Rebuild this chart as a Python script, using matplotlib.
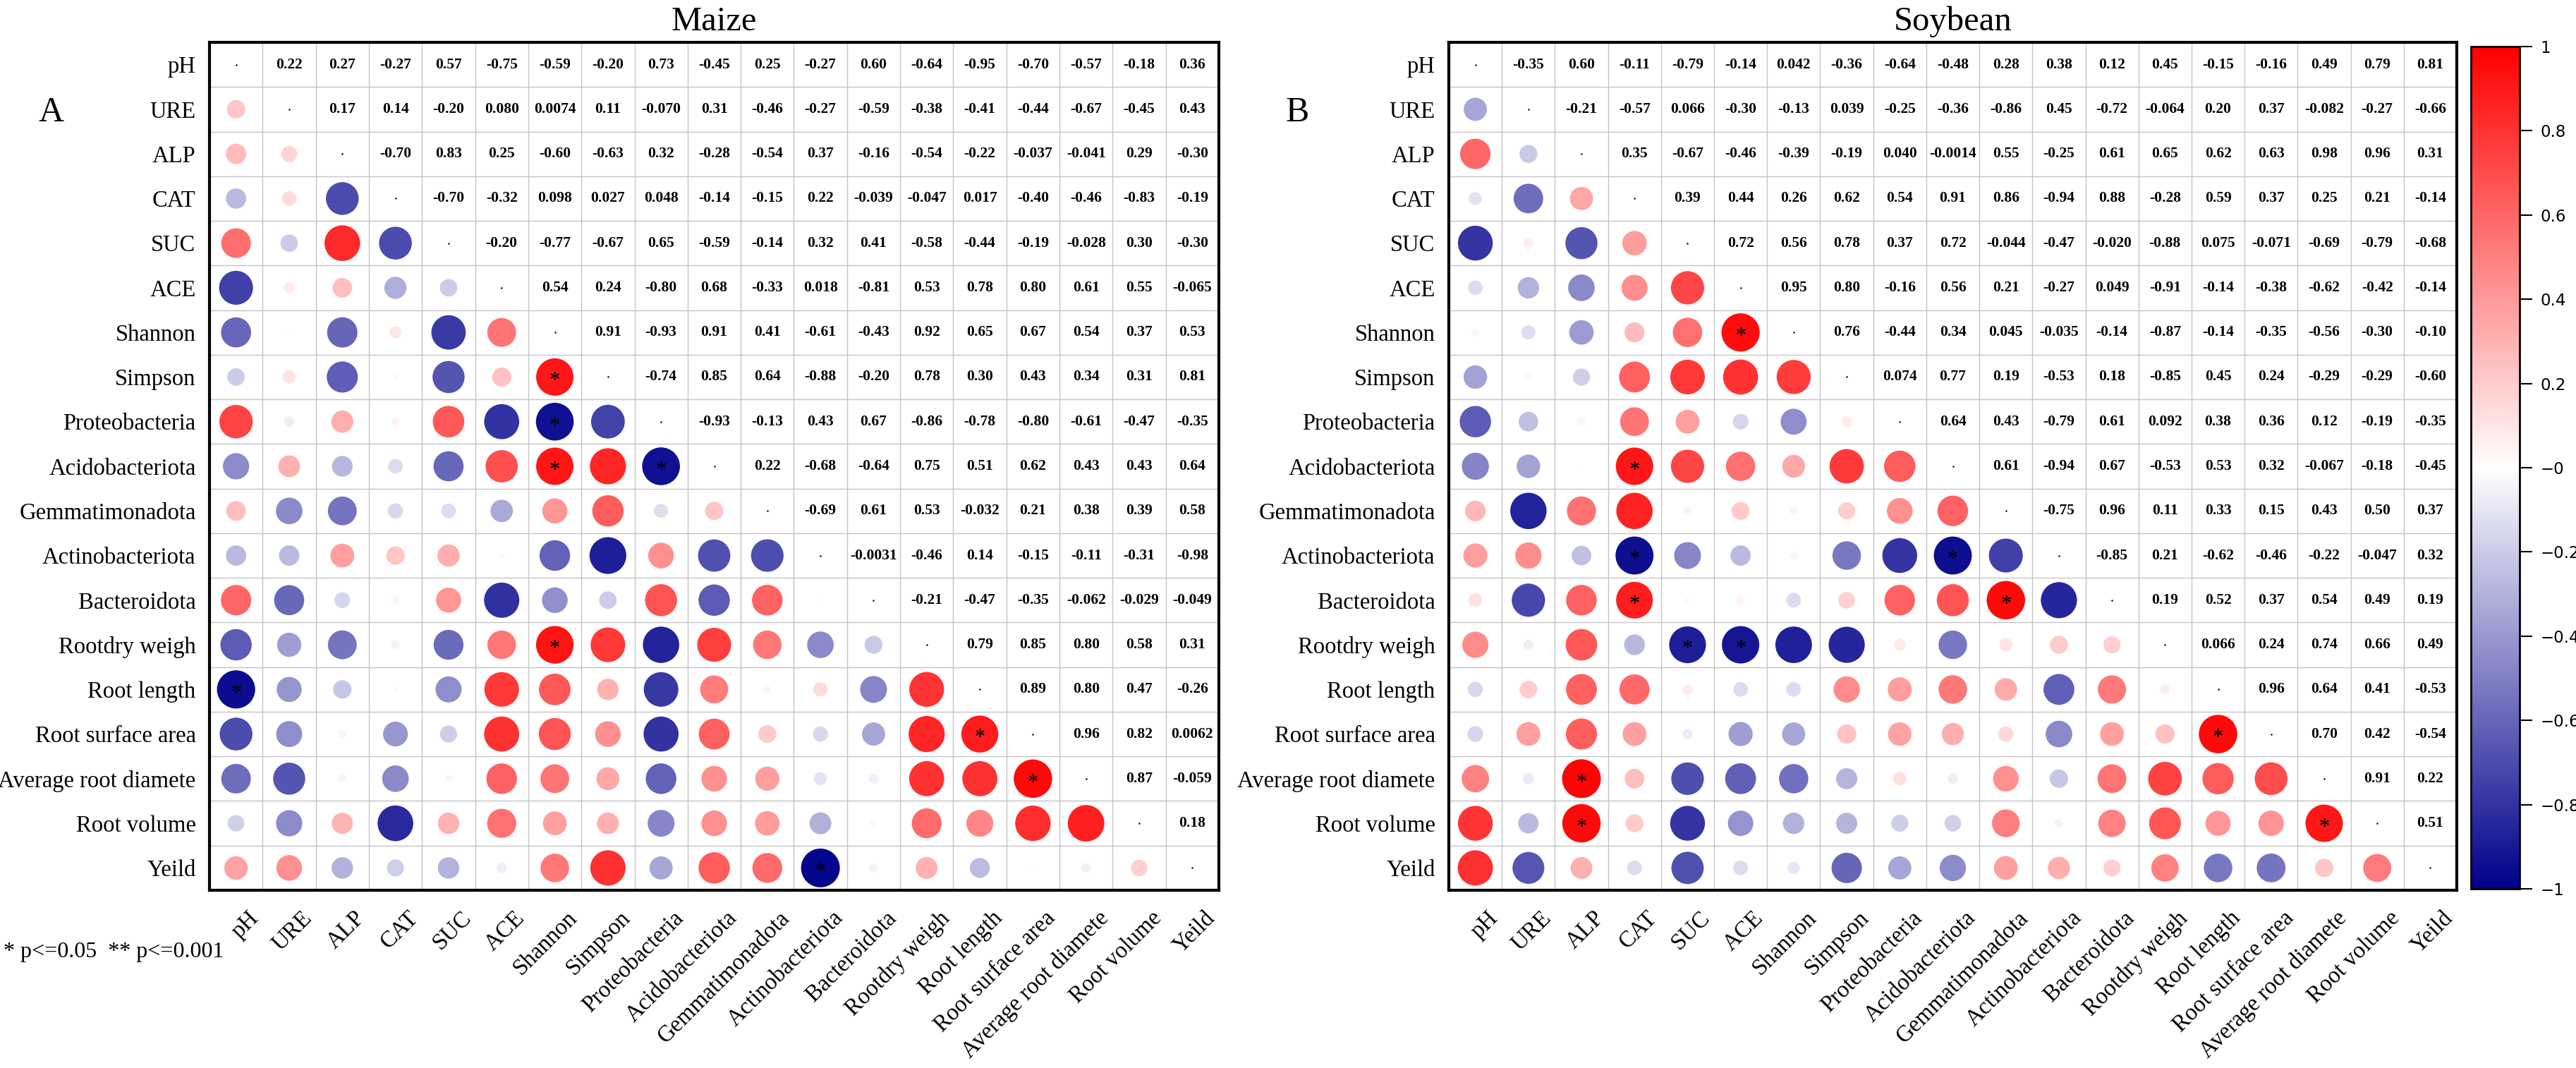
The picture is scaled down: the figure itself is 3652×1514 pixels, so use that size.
import numpy as np
import matplotlib.pyplot as plt
from matplotlib.colors import LinearSegmentedColormap, Normalize
from matplotlib.cm import ScalarMappable

plt.rcParams['font.family'] = ['Liberation Serif', 'DejaVu Serif']

variables = ['pH', 'URE', 'ALP', 'CAT', 'SUC', 'ACE', 'Shannon', 'Simpson',
             'Proteobacteria', 'Acidobacteriota', 'Gemmatimonadota',
             'Actinobacteriota', 'Bacteroidota', 'Rootdry weigh', 'Root length',
             'Root surface area', 'Average root diamete', 'Root volume', 'Yeild']

# upper triangle of the correlation matrix, one list per row (columns right of the diagonal)
maize_upper = [
    [0.22, 0.27, -0.27, 0.57, -0.75, -0.59, -0.20, 0.73, -0.45, 0.25, -0.27, 0.60, -0.64, -0.95, -0.70, -0.57, -0.18, 0.36],
    [0.17, 0.14, -0.20, 0.080, 0.0074, 0.11, -0.070, 0.31, -0.46, -0.27, -0.59, -0.38, -0.41, -0.44, -0.67, -0.45, 0.43],
    [-0.70, 0.83, 0.25, -0.60, -0.63, 0.32, -0.28, -0.54, 0.37, -0.16, -0.54, -0.22, -0.037, -0.041, 0.29, -0.30],
    [-0.70, -0.32, 0.098, 0.027, 0.048, -0.14, -0.15, 0.22, -0.039, -0.047, 0.017, -0.40, -0.46, -0.83, -0.19],
    [-0.20, -0.77, -0.67, 0.65, -0.59, -0.14, 0.32, 0.41, -0.58, -0.44, -0.19, -0.028, 0.30, -0.30],
    [0.54, 0.24, -0.80, 0.68, -0.33, 0.018, -0.81, 0.53, 0.78, 0.80, 0.61, 0.55, -0.065],
    [0.91, -0.93, 0.91, 0.41, -0.61, -0.43, 0.92, 0.65, 0.67, 0.54, 0.37, 0.53],
    [-0.74, 0.85, 0.64, -0.88, -0.20, 0.78, 0.30, 0.43, 0.34, 0.31, 0.81],
    [-0.93, -0.13, 0.43, 0.67, -0.86, -0.78, -0.80, -0.61, -0.47, -0.35],
    [0.22, -0.68, -0.64, 0.75, 0.51, 0.62, 0.43, 0.43, 0.64],
    [-0.69, 0.61, 0.53, -0.032, 0.21, 0.38, 0.39, 0.58],
    [-0.0031, -0.46, 0.14, -0.15, -0.11, -0.31, -0.98],
    [-0.21, -0.47, -0.35, -0.062, -0.029, -0.049],
    [0.79, 0.85, 0.80, 0.58, 0.31],
    [0.89, 0.80, 0.47, -0.26],
    [0.96, 0.82, 0.0062],
    [0.87, -0.059],
    [0.18],
]

soybean_upper = [
    [-0.35, 0.60, -0.11, -0.79, -0.14, 0.042, -0.36, -0.64, -0.48, 0.28, 0.38, 0.12, 0.45, -0.15, -0.16, 0.49, 0.79, 0.81],
    [-0.21, -0.57, 0.066, -0.30, -0.13, 0.039, -0.25, -0.36, -0.86, 0.45, -0.72, -0.064, 0.20, 0.37, -0.082, -0.27, -0.66],
    [0.35, -0.67, -0.46, -0.39, -0.19, 0.040, -0.0014, 0.55, -0.25, 0.61, 0.65, 0.62, 0.63, 0.98, 0.96, 0.31],
    [0.39, 0.44, 0.26, 0.62, 0.54, 0.91, 0.86, -0.94, 0.88, -0.28, 0.59, 0.37, 0.25, 0.21, -0.14],
    [0.72, 0.56, 0.78, 0.37, 0.72, -0.044, -0.47, -0.020, -0.88, 0.075, -0.071, -0.69, -0.79, -0.68],
    [0.95, 0.80, -0.16, 0.56, 0.21, -0.27, 0.049, -0.91, -0.14, -0.38, -0.62, -0.42, -0.14],
    [0.76, -0.44, 0.34, 0.045, -0.035, -0.14, -0.87, -0.14, -0.35, -0.56, -0.30, -0.10],
    [0.074, 0.77, 0.19, -0.53, 0.18, -0.85, 0.45, 0.24, -0.29, -0.29, -0.60],
    [0.64, 0.43, -0.79, 0.61, 0.092, 0.38, 0.36, 0.12, -0.19, -0.35],
    [0.61, -0.94, 0.67, -0.53, 0.53, 0.32, -0.067, -0.18, -0.45],
    [-0.75, 0.96, 0.11, 0.33, 0.15, 0.43, 0.50, 0.37],
    [-0.85, 0.21, -0.62, -0.46, -0.22, -0.047, 0.32],
    [0.19, 0.52, 0.37, 0.54, 0.49, 0.19],
    [0.066, 0.24, 0.74, 0.66, 0.49],
    [0.96, 0.64, 0.41, -0.53],
    [0.70, 0.42, -0.54],
    [0.91, 0.22],
    [0.51],
]

# significant pairs (row, column) marked with * in the lower triangle
maize_sig = [('Simpson', 'Shannon'), ('Proteobacteria', 'Shannon'),
             ('Acidobacteriota', 'Shannon'), ('Acidobacteriota', 'Proteobacteria'),
             ('Rootdry weigh', 'Shannon'), ('Root length', 'pH'),
             ('Root surface area', 'Root length'), ('Average root diamete', 'Root surface area'),
             ('Yeild', 'Actinobacteriota')]
soybean_sig = [('Shannon', 'ACE'), ('Acidobacteriota', 'CAT'),
               ('Actinobacteriota', 'CAT'), ('Actinobacteriota', 'Acidobacteriota'),
               ('Bacteroidota', 'CAT'), ('Bacteroidota', 'Gemmatimonadota'),
               ('Rootdry weigh', 'SUC'), ('Rootdry weigh', 'ACE'),
               ('Root surface area', 'Root length'), ('Average root diamete', 'ALP'),
               ('Root volume', 'ALP'), ('Root volume', 'Average root diamete')]

cmap = LinearSegmentedColormap.from_list('bwr_corr', ['#00008B', '#ffffff', '#ff0000'])

W, H = 3652, 1514


def fmt(v):
    # two significant digits, like the original labels
    if abs(v) >= 0.1:
        return f'{v:.2f}'
    d = 1 - int(np.floor(np.log10(abs(v))))
    return f'{v:.{d}f}'


def full_matrix(upper):
    n = len(variables)
    m = np.eye(n)
    for i, row in enumerate(upper):
        for k, v in enumerate(row):
            m[i, i + 1 + k] = v
            m[i + 1 + k, i] = v
    return m


def draw_panel(ax, upper, sig):
    n = len(variables)
    m = full_matrix(upper)
    ax.set_xlim(0, n)
    ax.set_ylim(n, 0)
    for k in range(1, n):
        ax.axhline(k, color='#c4c4c4', lw=1.0, zorder=1)
        ax.axvline(k, color='#c4c4c4', lw=1.0, zorder=1)

    # circles in the lower triangle, area proportional to |r|
    ii, jj = np.tril_indices(n, -1)
    vals = m[ii, jj]
    ax.scatter(jj + 0.5, ii + 0.5, s=1600 * np.abs(vals), c=vals, cmap=cmap,
               vmin=-1, vmax=1, edgecolors='none', zorder=3)
    ax.scatter(np.arange(n) + 0.5, np.arange(n) + 0.5, s=0.6, color='black', zorder=3)

    # numbers in the upper triangle
    ui, uj = np.triu_indices(n, 1)
    for i, j in zip(ui, uj):
        ax.text(j + 0.5, i + 0.5, fmt(m[i, j]), ha='center', va='center',
                fontsize=15.5, fontweight='bold', zorder=4)

    for r, c in sig:
        i, j = variables.index(r), variables.index(c)
        ax.text(j + 0.5, i + 0.72, '*', ha='center', va='baseline', fontsize=22, zorder=5)

    ax.set_yticks(np.arange(n) + 0.5)
    ax.set_yticklabels(variables, fontsize=23.5)
    ax.set_xticks([])
    # rotated column labels, anchored just below the frame
    for j, name in enumerate(variables):
        ax.text(j + 0.5 + 0.22, -0.02, name, transform=ax.get_xaxis_transform(),
                rotation=45, ha='right', va='top', rotation_mode='anchor', fontsize=23.5)
    ax.tick_params(axis='y', length=0, pad=14)
    for s in ax.spines.values():
        s.set_linewidth(3)
        s.set_color('black')


fig = plt.figure(figsize=(W / 100, H / 100), dpi=100)

top, bottom = 60, 1262
ax1 = fig.add_axes([297 / W, 1 - bottom / H, 1431 / W, (bottom - top) / H])
ax2 = fig.add_axes([2054 / W, 1 - bottom / H, 1429 / W, (bottom - top) / H])
draw_panel(ax1, maize_upper, maize_sig)
draw_panel(ax2, soybean_upper, soybean_sig)

fig.text((297 + 1728) / 2 / W, 1 - 43 / H, 'Maize', ha='center', va='baseline', fontsize=35)
fig.text((2054 + 3483) / 2 / W, 1 - 43 / H, 'Soybean', ha='center', va='baseline', fontsize=35)
fig.text(54 / W, 1 - 172 / H, 'A', ha='left', va='baseline', fontsize=36)
fig.text(1823 / W, 1 - 172 / H, 'B', ha='left', va='baseline', fontsize=36)
fig.text(5 / W, 1 - 1350 / H, '* p<=0.05  ** p<=0.001', ha='left', va='center', fontsize=23)

# colorbar
cax = fig.add_axes([3503 / W, 1 - 1260 / H, 69 / W, (1260 - 66) / H])
cb = fig.colorbar(ScalarMappable(norm=Normalize(-1, 1), cmap=cmap), cax=cax)
ticks = np.round(np.arange(-1, 1.01, 0.2), 1)
cb.set_ticks(ticks)
cb.set_ticklabels([f'{t:g}'.replace('-', '\u2212') for t in ticks])
cb.ax.tick_params(length=13, width=1.5, labelsize=16.5, pad=8)
for lab in cb.ax.get_yticklabels():
    lab.set_family('DejaVu Sans')
cb.outline.set_linewidth(2)

fig.savefig('out.png', dpi=100)
